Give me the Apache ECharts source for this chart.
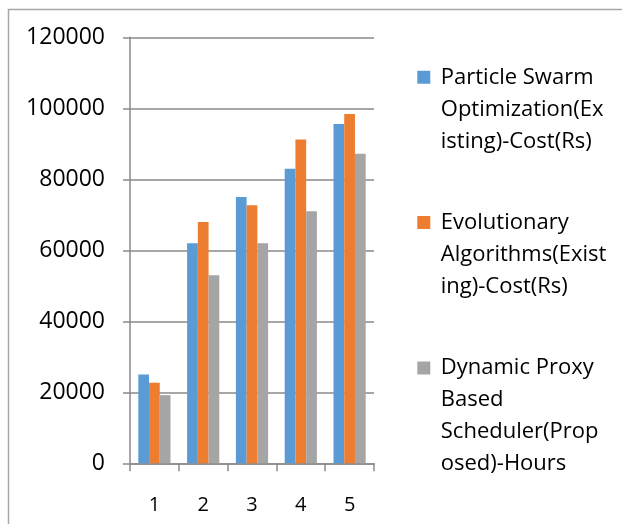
<!DOCTYPE html>
<html>
<head>
<meta charset="utf-8">
<script src="https://cdn.jsdelivr.net/npm/echarts@6/dist/echarts.min.js"></script>
<style>
html,body{margin:0;padding:0;background:#fff;}
#chart{width:622px;height:524px;}
</style>
</head>
<body>
<div id="chart"></div>
<script>
const categories = ['1', '2', '3', '4', '5'];
const seriesNames = [
  'Particle Swarm Optimization(Existing)-Cost(Rs)',
  'Evolutionary Algorithms(Existing)-Cost(Rs)',
  'Dynamic Proxy Based Scheduler(Proposed)-Hours'
];
const legendLabels = [
  'Particle Swarm\nOptimization(Ex\nisting)-Cost(Rs)',
  'Evolutionary\nAlgorithms(Exist\ning)-Cost(Rs)',
  'Dynamic Proxy\nBased\nScheduler(Prop\nosed)-Hours'
];
const psoCost = [25000, 62000, 75000, 83000, 95600];
const eaCost = [22700, 68000, 72700, 91200, 98400];
const dpsHours = [19200, 53000, 62000, 71000, 87200];
const colors = ['#5B9BD5', '#ED7D31', '#A5A5A5'];

const lineColor = '#8a8a8a';
const chart = echarts.init(document.getElementById('chart'));

function legendFormatter(name) {
  return legendLabels[seriesNames.indexOf(name)];
}
const LINE_H = 32;
const ICON = 13;
const ICON_BOX_W = 18.5;
// icon box tall enough that the square sits at the first text line
function legendFor(i, topFirstLineCenter) {
  const lines = legendLabels[i].split('\n').length;
  const boxH = ICON + (lines - 1) * LINE_H;
  const iconPath = 'path://M0,0H' + ICON + 'V' + ICON + 'H0Z M' + ICON_BOX_W + ',' + boxH + 'L' + ICON_BOX_W + ',' + boxH;
  const textTopOffset = boxH / 2 - lines * LINE_H / 2;
  return {
    orient: 'vertical',
    left: 417.3,
    top: topFirstLineCenter - ICON / 2 + textTopOffset,
    padding: 0,
    icon: iconPath,
    itemWidth: ICON_BOX_W,
    itemHeight: boxH,
    selectedMode: false,
    formatter: legendFormatter,
    textStyle: { fontFamily: 'Open Sans', fontSize: 22, lineHeight: LINE_H, color: '#000' },
    data: [seriesNames[i]]
  };
}
const legendFirstLine = [77.3, 222.5, 368];

chart.setOption({
  backgroundColor: '#fff',
  animation: false,
  color: colors,
  graphic: [{
    type: 'rect',
    shape: { x: 8.5, y: 9.5, width: 800, height: 800 },
    style: { fill: 'none', stroke: '#a6a6a6', lineWidth: 1.5 },
    silent: true
  }],
  legend: seriesNames.map((n, i) => legendFor(i, legendFirstLine[i])),
  grid: { left: 130, top: 37.3, right: 248, bottom: 60.7, containLabel: false, outerBoundsMode: 'none' },
  xAxis: {
    type: 'category',
    data: categories,
    axisLine: { show: true, lineStyle: { color: lineColor, width: 1.5 } },
    axisTick: { show: true, length: 8, lineStyle: { color: lineColor, width: 1.5 } },
    axisLabel: { fontFamily: 'Open Sans', fontSize: 20, color: '#000', margin: 32 },
    splitLine: { show: false }
  },
  yAxis: {
    type: 'value',
    min: 0,
    max: 120000,
    interval: 20000,
    axisLine: { show: true, lineStyle: { color: lineColor, width: 1.5 } },
    axisTick: { show: true, length: 7, lineStyle: { color: lineColor, width: 1.5 } },
    axisLabel: { fontFamily: 'Open Sans', fontSize: 23, color: '#000', margin: 25, formatter: v => String(v) },
    splitLine: { show: true, lineStyle: { color: lineColor, width: 1.5 } }
  },
  series: [
    { name: seriesNames[0], type: 'bar', data: psoCost, barGap: '0%', barCategoryGap: '34%' },
    { name: seriesNames[1], type: 'bar', data: eaCost, barGap: '0%', barCategoryGap: '34%' },
    { name: seriesNames[2], type: 'bar', data: dpsHours, barGap: '0%', barCategoryGap: '34%' }
  ]
});
</script>
</body>
</html>
